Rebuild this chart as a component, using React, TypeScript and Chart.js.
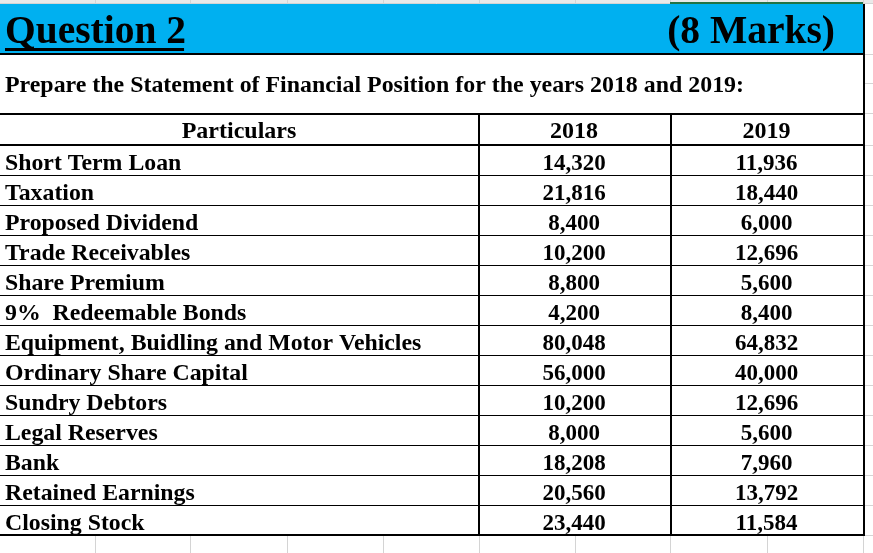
import React, { useEffect, useRef } from "react";
import { Chart, registerables } from "chart.js";

Chart.register(...registerables);

const titleText = "Question 2";
const marksText = "(8 Marks)";
const subtitleText = "Prepare the Statement of Financial Position for the years 2018 and 2019:";
const headerLabels = ["Particulars", "2018", "2019"];

const particulars = [
  "Short Term Loan",
  "Taxation",
  "Proposed Dividend",
  "Trade Receivables",
  "Share Premium",
  "9%  Redeemable Bonds",
  "Equipment, Buidling and Motor Vehicles",
  "Ordinary Share Capital",
  "Sundry Debtors",
  "Legal Reserves",
  "Bank",
  "Retained Earnings",
  "Closing Stock",
];
const values2018 = [14320, 21816, 8400, 10200, 8800, 4200, 80048, 56000, 10200, 8000, 18208, 20560, 23440];
const values2019 = [11936, 18440, 6000, 12696, 5600, 8400, 64832, 40000, 12696, 5600, 7960, 13792, 11584];

// layout (pixel units of the hidden linear scales)
const W = 873;
const H = 553;
const COL_EDGES = [0, 478, 670, 863];
const HEADER_TOP = 113;
const BODY_TOP = 144;
const ROW_H = 30;
const TABLE_BOTTOM = BODY_TOP + ROW_H * particulars.length + 1;
const GRID_X = [95, 190, 287, 383, 479, 575, 670, 767, 863];
const GRID_Y_RIGHT = [3, 54, 83, 113, 145];
const SERIF = '"Liberation Serif", "Times New Roman", serif';
const LABEL_FONT = `bold 23.8px ${SERIF}`;
const NUM_FONT = `bold 23px ${SERIF}`;
const HEAD_FONT = `bold 24px ${SERIF}`;
const TITLE_FONT = `bold 39.5px ${SERIF}`;
const SUB_FONT = `bold 23.9px ${SERIF}`;

const fmt = (v: number) => v.toLocaleString("en-US");

const rowBaseline = (i: number) => BODY_TOP + ROW_H * i + 26;
const colCenter = (c: number) => (COL_EDGES[c] + COL_EDGES[c + 1]) / 2;

const tablePlugin = {
  id: "tablePlugin",
  beforeDraw(chart: any) {
    const { ctx } = chart;
    const xs = chart.scales.x;
    const ys = chart.scales.y;
    const X = (v: number) => xs.getPixelForValue(v);
    const Y = (v: number) => ys.getPixelForValue(v);
    ctx.save();
    ctx.fillStyle = "#ffffff";
    ctx.fillRect(X(0), Y(0), X(W) - X(0), Y(H) - Y(0));
    // top strip
    ctx.fillStyle = "#e9e9e9";
    ctx.fillRect(X(0), Y(0), X(W) - X(0), Y(3) - Y(0));
    // excel gridlines
    ctx.strokeStyle = "#d4d4d4";
    ctx.lineWidth = 1;
    GRID_X.forEach((gx) => {
      ctx.beginPath();
      ctx.moveTo(X(gx) + 0.5, Y(0));
      ctx.lineTo(X(gx) + 0.5, Y(H));
      ctx.stroke();
    });
    const gy = [...GRID_Y_RIGHT];
    for (let i = 1; i <= particulars.length; i++) gy.push(BODY_TOP + ROW_H * i + 1);
    gy.forEach((g) => {
      ctx.beginPath();
      ctx.moveTo(X(0), Y(g) + 0.5);
      ctx.lineTo(X(W), Y(g) + 0.5);
      ctx.stroke();
    });
    // green selection line
    ctx.fillStyle = "#217346";
    ctx.fillRect(X(670), Y(2), X(863) - X(670), 2);
    // blue header
    ctx.fillStyle = "#00b0f0";
    ctx.fillRect(X(0), Y(4), X(863) - X(0), Y(53) - Y(4));
    // white table
    ctx.fillStyle = "#ffffff";
    ctx.fillRect(X(0), Y(55), X(863) - X(0), Y(TABLE_BOTTOM) - Y(55));
    // borders
    ctx.fillStyle = "#000000";
    ctx.fillRect(X(0), Y(53), X(865) - X(0), 2);
    ctx.fillRect(X(0), Y(HEADER_TOP), X(865) - X(0), 2);
    ctx.fillRect(X(0), Y(BODY_TOP), X(865) - X(0), 2);
    for (let i = 1; i < particulars.length; i++) {
      ctx.fillRect(X(0), Y(BODY_TOP + ROW_H * i + 1), X(865) - X(0), 1);
    }
    ctx.fillRect(X(0), Y(TABLE_BOTTOM - 1), X(865) - X(0), 2);
    [COL_EDGES[1], COL_EDGES[2]].forEach((cx) => {
      ctx.fillRect(X(cx), Y(HEADER_TOP), 2, Y(TABLE_BOTTOM + 1) - Y(HEADER_TOP));
    });
    ctx.fillRect(X(863), Y(4), 2, Y(TABLE_BOTTOM + 1) - Y(4));

    // titles
    ctx.fillStyle = "#000000";
    ctx.textBaseline = "alphabetic";
    ctx.font = TITLE_FONT;
    ctx.textAlign = "left";
    ctx.fillText(titleText, X(5), Y(43));
    const tw = ctx.measureText(titleText).width;
    ctx.fillRect(X(5), Y(48), tw - 2, 3);
    ctx.textAlign = "right";
    ctx.fillText(marksText, X(835), Y(43));
    ctx.font = SUB_FONT;
    ctx.textAlign = "left";
    ctx.fillText(subtitleText, X(5), Y(92));
    // header row
    ctx.font = HEAD_FONT;
    ctx.textAlign = "center";
    headerLabels.forEach((h, c) => {
      ctx.fillText(h, X(colCenter(c)), Y(138));
    });
    ctx.restore();
  },
  afterDatasetsDraw(chart: any) {
    const { ctx } = chart;
    ctx.save();
    ctx.fillStyle = "#000000";
    ctx.textBaseline = "alphabetic";
    chart.data.datasets.forEach((ds: any, di: number) => {
      const meta = chart.getDatasetMeta(di);
      ctx.textAlign = ds.align;
      ctx.font = ds.font;
      meta.data.forEach((el: any, i: number) => {
        ctx.fillText(ds.texts[i], el.x, el.y);
      });
    });
    ctx.restore();
  },
};

export default function App() {
  const ref = useRef<HTMLCanvasElement | null>(null);
  useEffect(() => {
    document.body.style.margin = "0";
    if (!ref.current) return;
    const chart = new Chart(ref.current, {
      type: "scatter",
      data: {
        datasets: [
          {
            label: "Particulars",
            data: particulars.map((_, i) => ({ x: 5, y: rowBaseline(i) })),
            texts: particulars,
            align: "left",
            font: LABEL_FONT,
            pointRadius: 0,
          } as any,
          {
            label: "2018",
            data: values2018.map((_, i) => ({ x: colCenter(1), y: rowBaseline(i) })),
            texts: values2018.map(fmt),
            align: "center",
            font: NUM_FONT,
            pointRadius: 0,
          } as any,
          {
            label: "2019",
            data: values2019.map((_, i) => ({ x: colCenter(2), y: rowBaseline(i) })),
            texts: values2019.map(fmt),
            align: "center",
            font: NUM_FONT,
            pointRadius: 0,
          } as any,
        ],
      },
      options: {
        animation: false,
        responsive: true,
        maintainAspectRatio: false,
        layout: { padding: 0 },
        plugins: { legend: { display: false }, tooltip: { enabled: false } },
        scales: {
          x: { type: "linear", min: 0, max: W, display: false },
          y: { type: "linear", min: 0, max: H, reverse: true, display: false },
        },
      },
      plugins: [tablePlugin],
    });
    return () => chart.destroy();
  }, []);
  return (
    <div style={{ position: "fixed", left: 0, top: 0, width: W, height: H }}>
      <canvas ref={ref} />
    </div>
  );
}
